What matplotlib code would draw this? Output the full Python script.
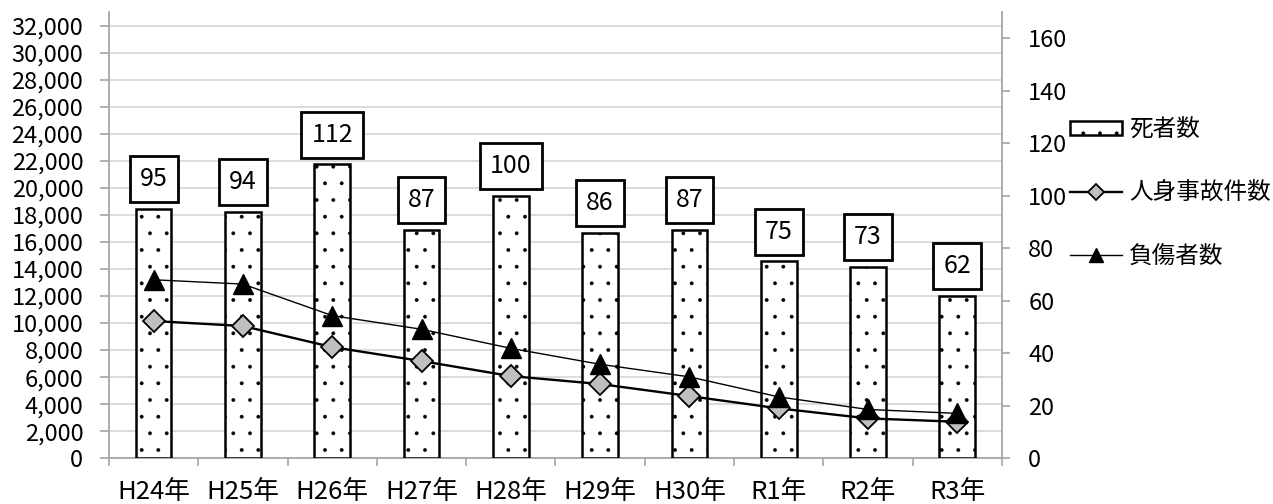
import matplotlib
matplotlib.use('Agg')
import matplotlib.pyplot as plt
from matplotlib.ticker import StrMethodFormatter
import numpy as np

plt.rcParams['font.family'] = ['Noto Sans CJK JP', 'DejaVu Sans']
plt.rcParams['hatch.linewidth'] = 0.3

# 年次データ
years = ['H24年', 'H25年', 'H26年', 'H27年', 'H28年', 'H29年', 'H30年', 'R1年', 'R2年', 'R3年']
deaths = [95, 94, 112, 87, 100, 86, 87, 75, 73, 62]
accidents = [10150, 9780, 8220, 7190, 6080, 5490, 4600, 3690, 2950, 2700]
injured = [13200, 12880, 10550, 9540, 8130, 6950, 6020, 4540, 3610, 3320]

x = np.arange(len(years))
spine_c = '#a6a6a6'
grid_c = '#d9d9d9'

fig = plt.figure(figsize=(12.73, 5.04), dpi=100)
ax = fig.add_axes([0.0856, 0.0907, 0.7015, 0.8855])

# 左軸 (件数・人数) と目盛線
ax.set_ylim(0, 33000)
ax.set_yticks(np.arange(0, 32001, 2000))
ax.yaxis.set_major_formatter(StrMethodFormatter('{x:,.0f}'))
ax.grid(axis='y', color=grid_c, lw=1.3)
ax.set_axisbelow(True)
ax.tick_params(axis='y', length=6.5, width=1.2, color=spine_c, labelsize=17, pad=12)

ax.set_xlim(-0.5, len(years) - 0.5)
ax.set_xticks(np.arange(-0.5, len(years), 1))
ax.set_xticklabels([])
ax.set_xticks(x, minor=True)
ax.set_xticklabels(years, minor=True)
ax.tick_params(axis='x', which='major', length=6, width=1.2, color=spine_c)
ax.tick_params(axis='x', which='minor', length=0, labelsize=18.5, pad=15)

for side in ['top', 'right']:
    ax.spines[side].set_visible(False)
for side in ['left', 'bottom']:
    ax.spines[side].set_color(spine_c)
    ax.spines[side].set_linewidth(1.3)

# 右軸 (死者数) の棒
ax_bar = ax.twinx()
ax_bar.set_ylim(0, 170)
ax_bar.set_yticks(np.arange(0, 161, 20))
ax_bar.tick_params(axis='y', length=6, width=1.2, color=spine_c, labelsize=17, pad=13)
for side in ['top', 'left', 'bottom']:
    ax_bar.spines[side].set_visible(False)
ax_bar.spines['right'].set_color(spine_c)
ax_bar.spines['right'].set_linewidth(1.3)

bars = ax_bar.bar(x, deaths, width=0.4, facecolor='white', edgecolor='black',
                  linewidth=1.8, hatch='.', label='死者数')
ax_bar.bar_label(bars, padding=12, fontsize=18,
                 bbox=dict(boxstyle='square,pad=0.4', fc='white', ec='black', lw=2))

# 折れ線 (左軸の値)
ax_line = ax.twinx()
ax_line.set_ylim(0, 33000)
ax_line.axis('off')
l_acc, = ax_line.plot(x, accidents, color='black', lw=1.7, marker='D', ms=11.5,
                      mfc='#bfbfbf', mec='black', mew=1.3, label='人身事故件数')
l_inj, = ax_line.plot(x, injured, color='black', lw=1.0, marker='^', ms=15,
                      mfc='black', mec='black', label='負傷者数')

fig.legend(handles=[bars, l_acc, l_inj], loc='upper left',
           bbox_to_anchor=(0.8405, 0.765), frameon=False, fontsize=17,
           handlelength=2.2, handleheight=0.5, handletextpad=0.3,
           labelspacing=1.7, borderaxespad=0, borderpad=0, markerscale=0.7)

fig.savefig('out.png', dpi=100)
